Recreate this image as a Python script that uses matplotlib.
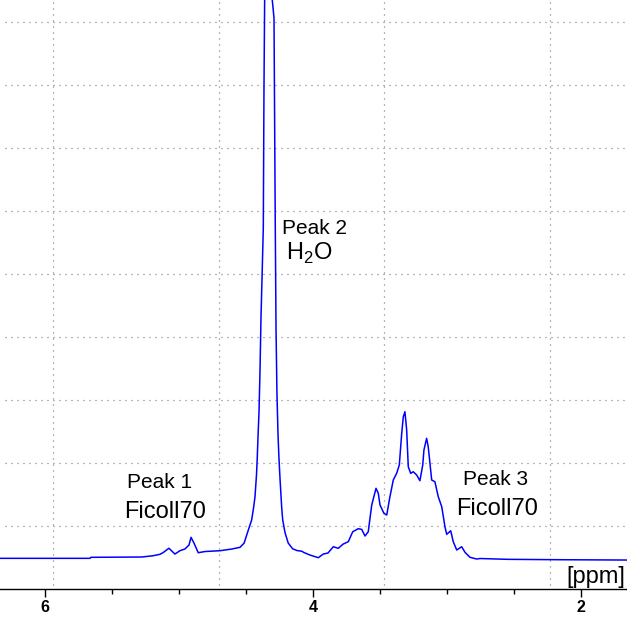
import matplotlib
matplotlib.use("Agg")
import matplotlib.pyplot as plt
from matplotlib.ticker import MultipleLocator

plt.rcParams['font.family'] = ['Liberation Sans', 'DejaVu Sans']
plt.rcParams['mathtext.fontset'] = 'custom'
plt.rcParams['mathtext.rm'] = 'Liberation Sans'
plt.rcParams['lines.scale_dashes'] = False

# 1H spectrum: chemical shift (ppm) and intensity (grid units)
ppm = [6.338, 5.666, 5.659, 5.278, 5.195, 5.143, 5.121, 5.076, 5.031, 4.994,
       4.957, 4.926, 4.911, 4.889, 4.857, 4.807, 4.694, 4.605, 4.545, 4.514,
       4.495, 4.478, 4.458, 4.444, 4.433, 4.422, 4.416, 4.411, 4.403, 4.396,
       4.388, 4.379, 4.371, 4.366, 4.361, 4.332, 4.304, 4.291, 4.282, 4.276,
       4.269, 4.261, 4.254, 4.246, 4.234, 4.226, 4.209, 4.185, 4.152, 4.120,
       4.084, 4.067, 4.022, 3.960, 3.923, 3.888, 3.848, 3.811, 3.774, 3.736,
       3.703, 3.662, 3.636, 3.611, 3.587, 3.561, 3.529, 3.512, 3.499, 3.470,
       3.449, 3.425, 3.400, 3.375, 3.355, 3.337, 3.325, 3.313, 3.300, 3.288,
       3.270, 3.251, 3.225, 3.201, 3.180, 3.171, 3.151, 3.139, 3.126, 3.113,
       3.089, 3.064, 3.038, 3.014, 3.001, 2.971, 2.952, 2.926, 2.889, 2.864,
       2.827, 2.777, 2.752, 2.543, 2.155, 1.654]
intensity = [0.492, 0.492, 0.508, 0.513, 0.533, 0.556, 0.581, 0.652, 0.560, 0.613,
             0.640, 0.703, 0.825, 0.735, 0.581, 0.600, 0.613, 0.640, 0.667, 0.735,
             0.862, 0.973, 1.100, 1.290, 1.470, 1.814, 2.095, 2.397, 2.819, 3.429,
             4.338, 5.068, 5.740, 7.925, 9.354, 15.0, 9.354, 9.068, 5.894, 4.143,
             3.111, 2.449, 2.079, 1.751, 1.311, 1.100, 0.902, 0.735, 0.644, 0.616,
             0.605, 0.584, 0.544, 0.502, 0.560, 0.576, 0.676, 0.651, 0.719, 0.756,
             0.914, 0.962, 0.952, 0.846, 0.914, 1.338, 1.603, 1.524, 1.338, 1.206,
             1.179, 1.470, 1.735, 1.841, 1.973, 2.476, 2.740, 2.819, 2.529, 1.946,
             1.841, 1.867, 1.814, 1.724, 1.973, 2.211, 2.397, 2.263, 2.000, 1.735,
             1.708, 1.470, 1.311, 0.994, 0.873, 0.930, 0.756, 0.624, 0.676, 0.587,
             0.508, 0.481, 0.489, 0.476, 0.470, 0.465]

grid_ppm = [5.940, 4.700, 3.466, 2.229]
grid_int = [1, 2, 3, 4, 5, 6, 7, 8, 9]

fig = plt.figure(figsize=(6.27, 6.21), dpi=100)
ax = fig.add_axes([0, 0.051, 1, 0.949])

# dotted grey grid
for g in grid_ppm:
    ax.axvline(g, ymin=0.008, color='#707070', lw=0.9, ls=(0, (0.72, 3.6)), zorder=1)
for g in grid_int:
    ax.axhline(g, xmin=0.008, color='#707070', lw=0.9, ls=(0, (0.72, 3.6)), zorder=1)

ax.plot(ppm, intensity, color='#0000ff', lw=1.1, zorder=3)

ax.set_xlim(6.338, 1.654)
ax.set_ylim(0, 9.354)

for s in ['top', 'left', 'right']:
    ax.spines[s].set_visible(False)
ax.spines['bottom'].set_linewidth(1.0)
ax.set_yticks([])
ax.xaxis.set_major_locator(MultipleLocator(2))
ax.xaxis.set_minor_locator(MultipleLocator(0.5))
ax.tick_params(axis='x', which='major', direction='out', length=5.8, width=1.0,
               pad=2, labelsize=11.5)
ax.tick_params(axis='x', which='minor', direction='out', length=3.6, width=1.0)
for lab in ax.get_xticklabels():
    lab.set_fontweight('bold')

ax.text(5.143, 1.692, 'Peak 1', fontsize=15, ha='center', va='center')
ax.text(5.106, 1.227, 'Ficoll70', fontsize=17, ha='center', va='center')
ax.text(3.991, 5.735, 'Peak 2', fontsize=15, ha='center', va='center')
ax.text(4.026, 5.338, r'H$_\mathrm{2}$O', fontsize=17, ha='center', va='center')
ax.text(2.636, 1.751, 'Peak 3', fontsize=15, ha='center', va='center')
ax.text(2.623, 1.275, 'Ficoll70', fontsize=17, ha='center', va='center')
ax.text(1.669, 0.195, '[ppm]', fontsize=17, ha='right', va='center')

fig.savefig('out.png', dpi=100)
